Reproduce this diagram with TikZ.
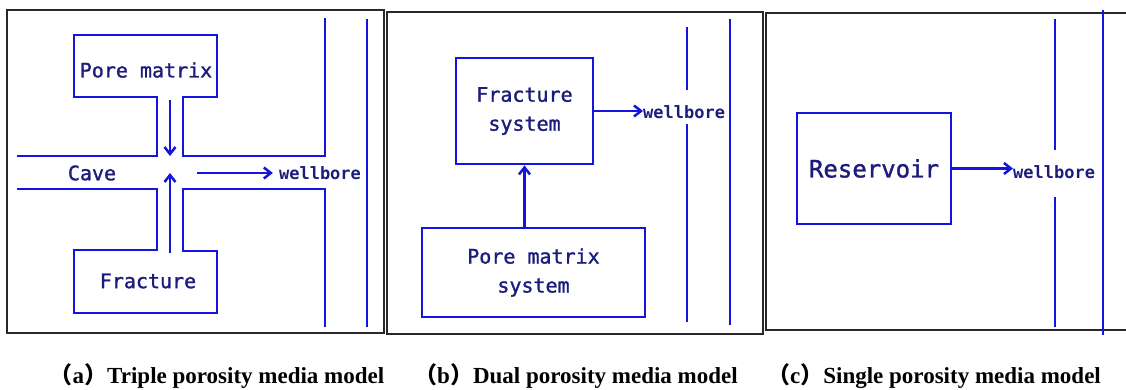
\documentclass[tikz,border=0pt]{standalone}
\usepackage{fontspec}
\setmainfont{Liberation Serif}
\newfontfamily\monof[FakeBold=1.3]{DejaVu Sans Mono}
\newfontfamily\monob{DejaVu Sans Mono}
\newfontfamily\cjkf{Noto Sans CJK SC}
\usetikzlibrary{arrows.meta}
\definecolor{lineblue}{RGB}{20,20,225}
\definecolor{txtblue}{RGB}{28,28,125}
\definecolor{framec}{RGB}{40,40,40}
\begin{document}
\begin{tikzpicture}[x=1pt,y=-1pt,
  wall/.style={draw=lineblue,line width=2.8pt},
  frame/.style={draw=framec,line width=1.6pt},
  lbl/.style={text=txtblue,font=\monof\fontsize{20}{29}\selectfont,inner sep=0pt},
  wb/.style={text=txtblue,font=\monob\bfseries\fontsize{17}{20}\selectfont,inner sep=0pt},
  boxn/.style={draw=lineblue,line width=2.8pt,text=txtblue,font=\monof\fontsize{20}{29}\selectfont,align=center,inner sep=0pt},
  flow/.style={draw=lineblue,line width=2.5pt,-{Straight Barb[length=7pt,width=11pt]}},
  captext/.style={font=\bfseries\fontsize{23}{26}\selectfont,inner sep=0pt,anchor=base}]
\useasboundingbox (0,0) rectangle (1126,389);
\fill[white] (0,0) rectangle (1126,389);
% ---------- panel (a)
\draw[frame] (7,10) rectangle (384,333);
\draw[wall] (17,156) -- (157,156) -- (157,97) -- (74,97) -- (74,35) -- (217,35) -- (217,97) -- (183,97) -- (183,156) -- (325,156) -- (325,18);
\draw[wall] (325,327) -- (325,189) -- (183,189) -- (183,251) -- (217,251) -- (217,313) -- (74,313) -- (74,250) -- (157,250) -- (157,189) -- (17,189);
\draw[wall] (367,19) -- (367,327);
\node[lbl] (pm) at (146,70) {Pore matrix};
\node[lbl] (fr) at (148,281) {Fracture};
\node[lbl] (cave) at (92,173) {Cave};
\node[wb] (wba) at (320,173) {wellbore};
\coordinate (pmout) at (170,100);
\coordinate (cin1) at (170,156);
\coordinate (frout) at (170,253);
\coordinate (cin2) at (170,173);
\coordinate (cout) at (197,173);
\draw[flow] (pmout) -- (cin1);
\draw[flow] (frout) -- (cin2);
\draw[flow,shorten >=6pt] (cout) -- (wba.west);
% ---------- panel (b)
\draw[frame] (387,12) rectangle (763,334);
\node[boxn,minimum width=137pt,minimum height=106pt] (fs) at (524.5,111) {Fracture\\system};
\node[boxn,minimum width=223pt,minimum height=89pt] (pms) at (533.5,272.5) {Pore matrix\\system};
\draw[flow] (pms.north -| fs.south) -- (fs.south);
\node[wb,anchor=west] (wbb) at (643,112) {wellbore};
\draw[flow] (fs.east) -- (fs.east -| wbb.west);
\draw[wall] (687,27) -- (687,90);
\draw[wall] (687,124) -- (687,322);
\draw[wall] (730,19) -- (730,325);
% ---------- panel (c)
\draw[frame,line width=2pt] (1127,13) -- (766,13) -- (766,330) -- (1127,330);
\node[boxn,minimum width=154pt,minimum height=111pt,font=\monof\fontsize{24}{28}\selectfont] (res) at (874,168.5) {Reservoir};
\node[wb,anchor=west] (wbc) at (1013,172) {wellbore};
\draw[flow] (res.east) -- (res.east -| wbc.west);
\draw[wall] (1055,19) -- (1055,150);
\draw[wall] (1055,197) -- (1055,327);
\draw[wall] (1103,10) -- (1103,335);
% ---------- captions
\node[captext] (capa) at (217,383) {{\cjkf （}a{\cjkf ）}Triple porosity media model};
\node[captext] (capb) at (576,383) {{\cjkf （}b{\cjkf ）}Dual porosity media model};
\node[captext] (capc) at (934,383) {{\cjkf （}c{\cjkf ）}Single porosity media model};
\end{tikzpicture}
\end{document}
